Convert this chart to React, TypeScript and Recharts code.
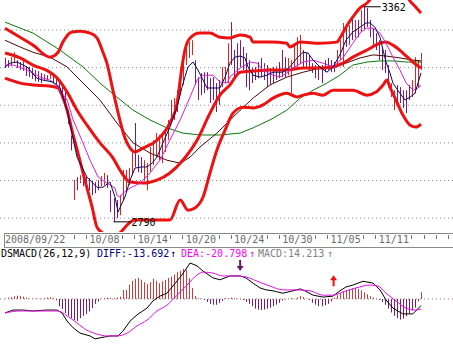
import React from "react";
import { ComposedChart, Bar, Line, XAxis, YAxis, ReferenceLine, Scatter } from "recharts";

// date strip: a label every 4 trading days, 4 hourly bars per day
const DATE_LABELS = ["2008/09/22", "10/08", "10/14", "10/20", "10/24", "10/30", "11/05", "11/11"];
const LABEL_BARS = [0, 28, 44, 60, 76, 92, 108, 124];
const PRICE_GRID = [3300, 3200, 3100, 3000, 2900, 2800];

// hourly bars, high / low / up(1) or down(0)
const BAR_HIGH = [
  3226, 3220, 3228, 3241, 3220, 3215, 3218, 3204, 3202, 3199,
  3194, 3191, 3186, 3183, 3180, 3183, 3180, 3178, 3167, 3151,
  3135, 3087, 3020, 2901, 2909, 2914, 2912, 2909, 2906, 2901,
  2896, 2901, 2912, 2920, 2914, 2874, 2853, 2848, 2861, 2928,
  2928, 2933, 2981, 3053, 2968, 2962, 2954, 2946, 2989, 3007,
  3026, 3021, 3026, 3029, 3061, 3114, 3119, 3140, 3194, 3239,
  3260, 3268, 3273, 3220, 3175, 3186, 3188, 3188, 3172, 3175,
  3159, 3167, 3202, 3202, 3265, 3321, 3247, 3265, 3273, 3255,
  3239, 3220, 3202, 3202, 3215, 3226, 3212, 3207, 3199, 3202,
  3204, 3215, 3247, 3228, 3226, 3220, 3260, 3281, 3287, 3247,
  3239, 3234, 3212, 3207, 3207, 3207, 3220, 3226, 3220, 3215,
  3247, 3273, 3319, 3308, 3313, 3335, 3327, 3327, 3353, 3362,
  3359, 3327, 3305, 3292, 3273, 3255, 3247, 3207, 3159, 3140,
  3154, 3148, 3140, 3140, 3154, 3167, 3228, 3220, 3239,
];
const BAR_LOW = [
  3199, 3199, 3204, 3212, 3199, 3194, 3191, 3178, 3175, 3170,
  3164, 3162, 3159, 3167, 3167, 3170, 3162, 3156, 3135, 3122,
  3100, 3050, 2980, 2848, 2874, 2893, 2885, 2880, 2874, 2861,
  2866, 2874, 2885, 2888, 2880, 2816, 2790, 2800, 2808, 2848,
  2869, 2888, 2914, 2936, 2922, 2920, 2901, 2874, 2922, 2941,
  2962, 2954, 2946, 2976, 3007, 3061, 3061, 3082, 3127, 3154,
  3207, 3226, 3234, 3154, 3114, 3127, 3132, 3140, 3106, 3114,
  3082, 3101, 3148, 3159, 3159, 3207, 3167, 3186, 3202, 3194,
  3148, 3140, 3159, 3167, 3172, 3175, 3167, 3148, 3154, 3159,
  3167, 3172, 3175, 3175, 3180, 3132, 3194, 3202, 3212, 3202,
  3202, 3194, 3186, 3172, 3167, 3159, 3188, 3194, 3188, 3188,
  3202, 3220, 3202, 3255, 3260, 3273, 3279, 3281, 3295, 3300,
  3308, 3281, 3260, 3247, 3220, 3194, 3186, 3148, 3122, 3087,
  3101, 3106, 3093, 3079, 3114, 3122, 3132, 3148, 3194,
];
const BAR_UP = [
  0, 0, 1, 1, 0, 0, 1, 0, 0, 0,
  0, 0, 0, 1, 0, 1, 0, 0, 0, 0,
  0, 0, 0, 1, 0, 1, 0, 0, 0, 0,
  0, 0, 1, 1, 0, 0, 0, 0, 1, 1,
  1, 1, 1, 0, 0, 0, 1, 1, 1, 1,
  1, 1, 1, 1, 1, 1, 1, 1, 1, 1,
  1, 1, 1, 0, 0, 0, 0, 0, 0, 0,
  0, 0, 1, 1, 1, 0, 0, 0, 0, 0,
  0, 0, 0, 0, 0, 0, 0, 0, 0, 0,
  0, 0, 0, 0, 1, 1, 1, 1, 1, 0,
  0, 0, 0, 0, 0, 0, 0, 0, 0, 0,
  1, 1, 1, 0, 1, 0, 1, 0, 1, 0,
  0, 0, 0, 0, 0, 0, 0, 0, 1, 1,
  0, 0, 0, 0, 0, 1, 1, 1, 1,
];

// [bar, value] pairs
const BOLL_UPPER = [
  [0, 3305], [5, 3281], [9.3, 3260], [14.9, 3228], [17.6, 3241], [19.2, 3268], [22.2, 3295], [24.9, 3297],
  [28.2, 3292], [30.5, 3279], [32.5, 3241], [33.8, 3212], [35.8, 3140], [38.1, 3061], [39.8, 3013], [41.5, 2986],
  [43.1, 2976], [45.8, 2986], [50.4, 3007], [54.7, 3053], [57.1, 3106], [58.7, 3202], [59.7, 3247], [61.4, 3279],
  [64.7, 3292], [68, 3292], [71.3, 3281], [74.6, 3279], [78, 3287], [81.3, 3281], [82.3, 3268], [87.9, 3268],
  [93.5, 3265], [94.5, 3255], [97.9, 3268], [104.5, 3265], [110.1, 3268], [111.1, 3279], [113.5, 3313],
  [115.4, 3335], [117.8, 3359], [120.1, 3372], [122.7, 3396], [126, 3417], [129.4, 3417], [132.7, 3396],
  [134.7, 3374], [136.3, 3361], [138, 3345],
];
const BOLL_MID = [
  [0, 3239], [5, 3226], [9.3, 3207], [14.9, 3188], [17.6, 3170], [20.6, 3135], [23.9, 3087], [27.2, 3047],
  [31.5, 3000], [35.8, 2960], [38.1, 2928], [41.5, 2896], [45.8, 2893], [50.4, 2901], [54.7, 2920], [59, 2954],
  [63.7, 3007], [68, 3079], [71.3, 3127], [74.6, 3154], [78, 3188], [82.3, 3191], [87.9, 3194], [93.5, 3194],
  [98.9, 3199], [104.5, 3199], [108.8, 3202], [112.1, 3212], [115.4, 3228], [120.1, 3247], [124.4, 3265],
  [126.4, 3268], [128.7, 3260], [132, 3239], [135.3, 3215], [138, 3199],
];
const BOLL_LOWER = [
  [0, 3172], [5, 3159], [9.3, 3154], [14.9, 3151], [17.6, 3146], [18.9, 3127], [20.6, 3087], [22.2, 3034],
  [24.2, 2973], [26.5, 2901], [28.9, 2829], [30.5, 2776], [32.5, 2760], [34.8, 2755], [37.2, 2755], [38.8, 2766],
  [40.8, 2784], [43.1, 2795], [50.4, 2795], [54.7, 2795], [58.1, 2848], [60.7, 2821], [63, 2827], [65.7, 2856],
  [68, 2920], [70.3, 2981], [73, 3034], [75.6, 3079], [79, 3095], [82.3, 3093], [85.6, 3101], [88.9, 3119],
  [93.5, 3132], [96.9, 3122], [98.9, 3127], [102.2, 3132], [105.5, 3127], [108.8, 3140], [112.1, 3140],
  [115.4, 3140], [120.1, 3127], [123.1, 3135], [125.4, 3154], [126.7, 3167], [127.7, 3148], [129.7, 3114],
  [132, 3074], [134.4, 3047], [136.3, 3042], [138, 3050],
];
const MA5 = [
  [0, 3202], [1.7, 3212], [4, 3215], [7.3, 3202], [10.6, 3172], [12.6, 3167], [15.9, 3162], [18.2, 3148],
  [20.6, 3087], [22.2, 3026], [23.9, 2962], [27.2, 2909], [30.5, 2882], [32.5, 2882], [34.8, 2896], [36.5, 2856],
  [37.5, 2816], [38.1, 2827], [39.8, 2856], [41.5, 2901], [43.1, 2933], [45.4, 2936], [47.1, 2936], [48.8, 2946],
  [50.4, 2962], [52.4, 3000], [54.7, 3042], [57.1, 3095], [58.7, 3148], [60.7, 3202], [62.4, 3215], [64, 3194],
  [65.7, 3167], [67, 3146], [69, 3146], [71.3, 3146], [73, 3175], [74.6, 3212], [76.3, 3228], [78, 3231],
  [79.6, 3226], [80.6, 3202], [82.3, 3180], [84.6, 3175], [86.9, 3180], [88.9, 3188], [92.2, 3188], [94.5, 3202],
  [96.9, 3226], [98.9, 3241], [100.5, 3239], [102.2, 3220], [104.5, 3202], [106.8, 3188], [108.8, 3202],
  [111.1, 3234], [113.1, 3273], [115.4, 3295], [117.8, 3308], [119.8, 3319], [121.1, 3319], [122.7, 3308],
  [124.4, 3281], [125.4, 3247], [126.4, 3215], [127.7, 3186], [128.7, 3159], [131, 3132], [132.7, 3114],
  [134.4, 3122], [136, 3132], [138, 3186],
];
const MA10 = [
  [0, 3207], [2.7, 3207], [7.3, 3194], [11.6, 3175], [14.9, 3167], [17.6, 3148], [20.6, 3114], [22.6, 3061],
  [25.5, 3007], [28.2, 2954], [30.9, 2909], [33.8, 2893], [36.5, 2880], [37.1, 2861], [38.1, 2856], [39.1, 2866],
  [41.5, 2880], [44.8, 2893], [48.1, 2920], [51.4, 2954], [54.7, 3007], [58.1, 3061], [61.4, 3122], [63.7, 3167],
  [65.7, 3180], [69, 3180], [71.3, 3162], [73.7, 3159], [74.6, 3175], [78, 3199], [81.3, 3215], [83.6, 3212],
  [85.6, 3194], [88.9, 3180], [91.2, 3175], [93.5, 3186], [95.5, 3199], [98.9, 3215], [102.2, 3220],
  [105.5, 3212], [108.8, 3202], [112.1, 3226], [115.4, 3265], [117.8, 3292], [119.8, 3305], [122.1, 3305],
  [124.4, 3292], [126.4, 3265], [128.7, 3228], [131, 3194], [133.1, 3159], [135.4, 3140], [137, 3146], [138, 3154],
];
const MA30 = [
  [0, 3273], [5, 3255], [9.3, 3241], [14.9, 3228], [20.6, 3202], [25.9, 3159], [31.5, 3114], [37.1, 3053],
  [42.5, 3000], [48.1, 2973], [53.7, 2954], [58.1, 2946], [61.4, 2962], [64.7, 2989], [70.3, 3026], [77, 3079],
  [82.3, 3119], [87.9, 3154], [93.5, 3175], [98.9, 3188], [104.5, 3199], [111.1, 3207], [113.1, 3212],
  [117.8, 3226], [122.1, 3234], [126.4, 3231], [131, 3226], [135.3, 3220], [138, 3218],
];
const MA60 = [
  [0, 3321], [9.3, 3292], [18.2, 3247], [25.9, 3202], [31.5, 3159], [37.1, 3122], [42.5, 3087], [48.1, 3061],
  [53.7, 3040], [59, 3026], [64.7, 3021], [71.3, 3021], [78, 3026], [82.3, 3040], [87.9, 3061], [93.5, 3087],
  [97.9, 3119], [102.2, 3140], [106.8, 3159], [111.1, 3180], [115.4, 3207], [120.1, 3215], [124.4, 3218],
  [128.7, 3218], [133.1, 3215], [138, 3215],
];
const EXTREMES = [
  { i: 119, v: 3362, text: "3362" },
  { i: 36, v: 2790, text: "2790" },
];

// DSMACD panel
const MACD_HIST = [
  1, 3, 4, 6, 7, 6, 5, 3, 1, 1,
  1, 1, 1, 2, 3, 4, 2, -3, -15, -21,
  -29, -35, -40, -44, -46, -40, -35, -31, -26, -19,
  -10, -5, 1, 2, 3, 2, 2, 3, 5, 19,
  19, 30, 38, 42, 44, 40, 35, 31, 35, 42,
  38, 33, 37, 40, 44, 47, 51, 56, 59, 63,
  61, 44, 23, 6, 2, 1, -2, -6, -10, -12,
  -12, -8, -4, 2, 2, 3, 2, 1, 1, -2,
  -6, -10, -15, -20, -22, -23, -22, -20, -18, -15,
  -12, -8, -3, -1, 1, 2, 1, 3, 6, 4,
  1, -2, -8, -12, -15, -15, -13, -10, -5, 3,
  8, 12, 15, 18, 20, 22, 23, 21, 18, 14,
  10, 6, 3, 1, -2, -6, -12, -20, -28, -35,
  -40, -43, -41, -36, -30, -24, -18, -5, 14.213,
];
const DIFF = [
  [0, -29], [2.7, -23], [6, -23], [9.3, -25], [13.9, -23], [17.2, -23], [18.9, -29], [20.6, -46], [22.6, -60],
  [24.9, -71], [28.2, -77], [29.9, -83], [31.5, -81], [34.8, -77], [37.5, -77], [39.1, -67], [41.5, -46],
  [43.8, -33], [47.1, -19], [49.1, -4], [51.4, 6], [53.7, 12], [55.7, 27], [58.7, 50], [61.4, 75], [63.7, 69],
  [65.7, 58], [69, 44], [71.3, 40], [74.6, 48], [78, 48], [79.9, 44], [82.3, 33], [84.6, 23], [86.6, 19],
  [88.9, 17], [92.2, 12], [95.5, 17], [97.9, 21], [99.5, 17], [102.2, 8], [105.5, 4], [108.8, 6], [111.1, 17],
  [113.1, 25], [115.4, 29], [118.8, 37], [122.1, 33], [124.4, 19], [126.4, -2], [128.7, -19], [132, -31],
  [135.3, -31], [138, -13.692],
];
const DEA = [
  [0, -29], [5, -25], [9.3, -25], [14.9, -25], [17.6, -25], [20.6, -35], [23.9, -50], [27.2, -65], [30.5, -73],
  [33.8, -77], [37.2, -77], [40.5, -71], [43.8, -56], [47.1, -44], [50.4, -25], [53.7, -13], [57.1, 8],
  [60.4, 29], [63.7, 50], [65.7, 56], [69, 54], [72.3, 48], [76.6, 48], [79.9, 46], [83.3, 38], [87.9, 27],
  [92.2, 19], [96.5, 19], [101.2, 17], [105.5, 8], [108.8, 8], [112.1, 15], [116.4, 23], [121.1, 29],
  [123.7, 27], [126.4, 12], [129.7, -4], [133, -19], [136, -23], [138, -20.798],
];
const SIGNALS = [
  { i: 78, v: 70, dir: "down" },
  { i: 109, v: 38, dir: "up" },
];

const W = 453;
const BAR0_X = 5;
const BAR_STEP = 3.0145;
const X_DOMAIN = [-BAR0_X / BAR_STEP, (W - BAR0_X) / BAR_STEP];
const MAIN_H = 232;
const CHAR_W = 6.02;
const MONO = "'DejaVu Sans Mono', monospace";

const barRows = BAR_HIGH.map((h, i) => ({ i, range: [BAR_LOW[i], h], up: BAR_UP[i] }));
const macdRows = MACD_HIST.map((m, i) => ({ i, m }));
const pts = (arr: number[][]) => arr.map(([i, v]) => ({ i, v }));
const dayTicks = Array.from({ length: 38 }, (_, k) => k * 4);

const PriceStick = (props: any) => {
  const { x, y, width, height, payload } = props;
  if (x == null || y == null) return null;
  const cx = Math.round(x + width / 2) + 0.5;
  return <line x1={cx} x2={cx} y1={y} y2={y + height} stroke={payload.up ? "#e42020" : "#7d1a78"} strokeWidth={1} />;
};

const MacdStick = (props: any) => {
  const { x, y, width, height, payload } = props;
  if (x == null || y == null) return null;
  const cx = Math.round(x + width / 2) + 0.5;
  return <line x1={cx} x2={cx} y1={y} y2={y + height} stroke={payload.m >= 0 ? "#d23a3a" : "#7d1a78"} strokeWidth={1} />;
};

const ExtremeMark = (props: any) => {
  const { cx, cy, payload } = props;
  return (
    <g>
      <line x1={cx} x2={cx + 17} y1={cy} y2={cy} stroke="#000" strokeWidth={1} />
      <text x={cx + 18} y={cy + 4} fontSize={10} fontFamily={MONO} fill="#000">{payload.text}</text>
    </g>
  );
};

const SignalArrow = (props: any) => {
  const { cx, cy, payload } = props;
  if (payload.dir === "up") {
    return (
      <g fill="#ee1111">
        <polygon points={`${cx},${cy - 5.5} ${cx - 3.5},${cy - 0.5} ${cx + 3.5},${cy - 0.5}`} />
        <rect x={cx - 1} y={cy - 1} width={2} height={6.5} />
      </g>
    );
  }
  return (
    <g fill="#6e1466">
      <rect x={cx - 1} y={cy - 5.5} width={2} height={6.5} />
      <polygon points={`${cx},${cy + 5.5} ${cx - 3.5},${cy + 0.5} ${cx + 3.5},${cy + 0.5}`} />
    </g>
  );
};

const DateTick = (props: any) => {
  const { x, payload } = props;
  const bar = payload.value;
  const li = LABEL_BARS.indexOf(bar);
  const covered = LABEL_BARS.some(
    (lb, k) => lb < bar && (bar - lb) * BAR_STEP - 3.5 < DATE_LABELS[k].length * CHAR_W + 1
  );
  const tx = Math.round(x - 3.5) + 0.5;
  return (
    <g>
      {bar > 0 && !covered && <line x1={tx} x2={tx} y1={MAIN_H + 3} y2={MAIN_H + 7} stroke="#777" />}
      {li >= 0 && (
        <text x={x} y={MAIN_H + 11} fontSize={10} fontFamily={MONO} fill="#6a6a6a">
          {DATE_LABELS[li]}
        </text>
      )}
    </g>
  );
};

const bandLine = (data: number[][], key: string) => (
  <Line key={key} data={pts(data)} dataKey="v" type="monotone" stroke="#ee1111" strokeWidth={3}
    dot={false} activeDot={false} legendType="none" isAnimationActive={false} />
);
const maLine = (data: number[][], key: string, color: string) => (
  <Line key={key} data={pts(data)} dataKey="v" type="linear" stroke={color} strokeWidth={1}
    dot={false} activeDot={false} legendType="none" isAnimationActive={false} />
);

export default function App() {
  return (
    <div style={{ position: "relative", width: W, height: 346, background: "#fff", overflow: "hidden" }}>
      <style>{"body{margin:0}"}</style>
      <div style={{ position: "absolute", left: 4, top: 233, width: W - 4, height: 13, borderTop: "1px solid #8a8a8a", borderBottom: "1px solid #8a8a8a", borderLeft: "1px solid #8a8a8a" }} />
      <div style={{ position: "absolute", left: 0, top: 0 }}>
        <ComposedChart width={W} height={MAIN_H + 15} data={barRows} margin={{ top: 0, right: 0, bottom: 0, left: 0 }}>
          <XAxis type="number" dataKey="i" domain={X_DOMAIN} allowDataOverflow ticks={dayTicks} interval={0} height={15} axisLine={false} tickLine={false} tick={<DateTick />} />
          <YAxis hide type="number" domain={[2763, 3380]} allowDataOverflow />
          {PRICE_GRID.map((p) => (
            <ReferenceLine key={p} y={p} stroke="#8a8a8a" strokeDasharray="1 3" />
          ))}
          <Bar dataKey="range" barSize={1} shape={<PriceStick />} isAnimationActive={false} />
          {maLine(MA60, "ma60", "#0a7a0a")}
          {maLine(MA30, "ma30", "#4a0808")}
          {bandLine(BOLL_UPPER, "up")}
          {bandLine(BOLL_MID, "mid")}
          {bandLine(BOLL_LOWER, "low")}
          {maLine(MA10, "ma10", "#d81ed8")}
          {maLine(MA5, "ma5", "#0a0a60")}
          <Scatter data={EXTREMES} dataKey="v" shape={<ExtremeMark />} isAnimationActive={false} />
        </ComposedChart>
      </div>
      <svg style={{ position: "absolute", left: 0, top: 246 }} width={W} height={14}>
        <g fontSize={10} fontFamily={MONO}>
          <text x={1} y={11} fill="#000">DSMACD(26,12,9)</text>
          <text x={97} y={11} fill="#000080">DIFF:-13.692</text>
          <text x={170} y={11} fill="#000080">↑</text>
          <text x={181} y={11} fill="#ff00ff">DEA:-20.798</text>
          <text x={249} y={11} fill="#ff00ff">↑</text>
          <text x={258} y={11} fill="#808080">MACD:14.213</text>
          <text x={327} y={11} fill="#808080">↑</text>
        </g>
      </svg>
      <div style={{ position: "absolute", left: 0, top: 246 }}>
        <ComposedChart width={W} height={100} data={macdRows} margin={{ top: 12, right: 0, bottom: 0, left: 0 }}>
          <XAxis hide type="number" dataKey="i" domain={X_DOMAIN} allowDataOverflow />
          <YAxis hide type="number" domain={[-97.9, 85.4]} allowDataOverflow />
          <ReferenceLine y={0} stroke="#a07070" strokeDasharray="1 3" />
          <Bar dataKey="m" barSize={1} shape={<MacdStick />} isAnimationActive={false} />
          <Line data={pts(DIFF)} dataKey="v" type="linear" stroke="#000" strokeWidth={1} dot={false} activeDot={false} isAnimationActive={false} />
          <Line data={pts(DEA)} dataKey="v" type="monotone" stroke="#e010e0" strokeWidth={1} dot={false} activeDot={false} isAnimationActive={false} />
          <Scatter data={SIGNALS} dataKey="v" shape={<SignalArrow />} isAnimationActive={false} />
        </ComposedChart>
      </div>
    </div>
  );
}
